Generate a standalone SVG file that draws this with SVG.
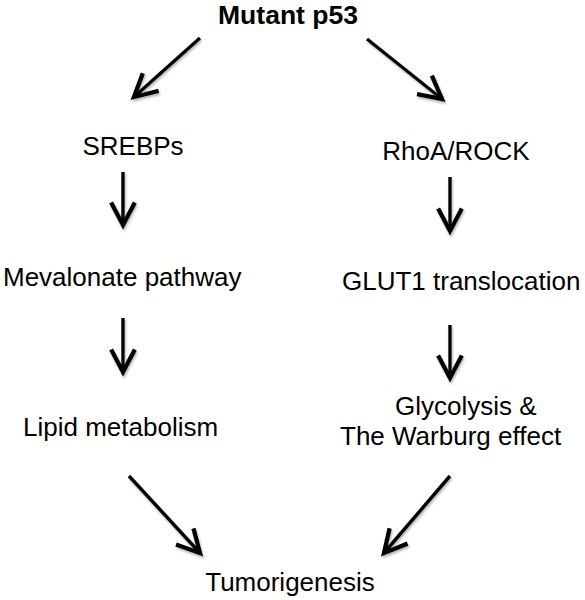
<svg xmlns="http://www.w3.org/2000/svg" width="585" height="600" viewBox="0 0 585 600">
<defs>
<style>
text{font-family:"Liberation Sans",Arial,sans-serif;font-size:26px;fill:#000}
.b{font-weight:bold;font-size:25px}
.c line{stroke:#000;stroke-width:3.5;marker-end:url(#v)}
</style>
<marker id="v" markerUnits="userSpaceOnUse" orient="auto" markerWidth="30" markerHeight="30" refX="0" refY="0" viewBox="-20 -12 24 24" overflow="visible">
<path d="M-18,-9.5 L0,0 L-18,9.5" fill="none" stroke="#000" stroke-width="3.5" stroke-linejoin="miter"/>
</marker>
<filter id="sh" x="-20%" y="-20%" width="140%" height="140%">
<feDropShadow dx="1" dy="2" stdDeviation="1" flood-color="#888" flood-opacity="0.6"/>
</filter>
</defs>
<rect width="585" height="600" fill="#fff"/>
<g id="n-mutant"><text class="b" x="288" y="24" text-anchor="middle" textLength="140" lengthAdjust="spacingAndGlyphs">Mutant p53</text></g>
<g id="n-srebps"><text x="133" y="155" text-anchor="middle">SREBPs</text></g>
<g id="n-rhoa"><text x="456" y="160" text-anchor="middle">RhoA/ROCK</text></g>
<g id="n-meval"><text x="3" y="286">Mevalonate pathway</text></g>
<g id="n-glut1"><text x="342" y="290">GLUT1 translocation</text></g>
<g id="n-lipid"><text x="23" y="436">Lipid metabolism</text></g>
<g id="n-glyco"><text x="395" y="415">Glycolysis &amp;</text><text x="340" y="445">The Warburg effect</text></g>
<g id="n-tumor"><text x="290" y="591" text-anchor="middle">Tumorigenesis</text></g>
<g id="connectors" class="c" filter="url(#sh)">
<line x1="200" y1="38" x2="134" y2="97"/>
<line x1="367" y1="39" x2="442" y2="99"/>
<line x1="123" y1="172" x2="123" y2="225"/>
<line x1="450" y1="177" x2="450" y2="231"/>
<line x1="123" y1="318" x2="123" y2="372"/>
<line x1="450" y1="325" x2="450" y2="378"/>
<line x1="129" y1="476" x2="200" y2="553"/>
<line x1="450" y1="476" x2="384" y2="553"/>
</g>
</svg>
